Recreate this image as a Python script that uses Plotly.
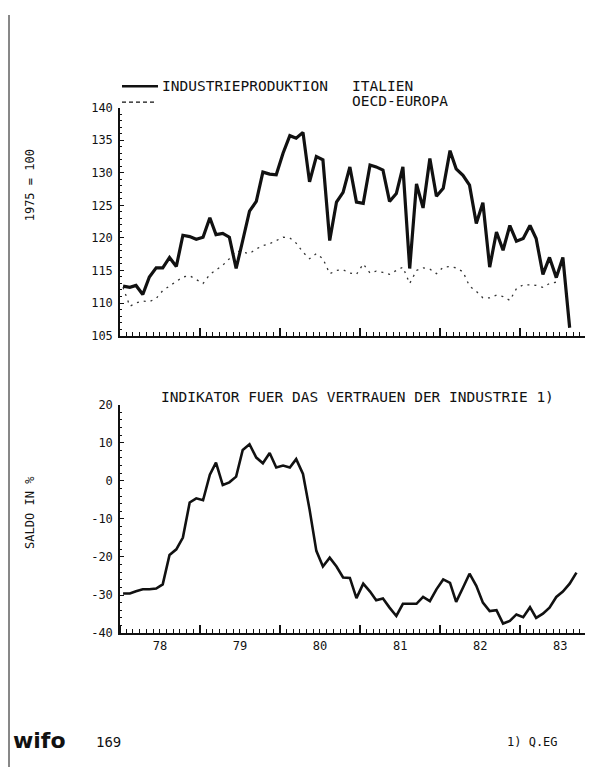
import plotly.graph_objects as go
from datetime import date

START_YEAR = 1978

# Industrieproduktion Italien (1975 = 100), monthly from Jan 1978
italien = [112.6, 112.4, 112.7, 111.3, 114.0, 115.4, 115.4, 117.0, 115.6, 120.4,
           120.2, 119.8, 120.1, 123.1, 120.5, 120.7, 120.1, 115.3, 119.6, 124.1,
           125.6, 130.1, 129.8, 129.7, 133.0, 135.7, 135.3, 136.2, 128.6, 132.5,
           132.0, 119.6, 125.5, 127.0, 130.9, 125.5, 125.3, 131.2, 130.9, 130.4,
           125.6, 126.8, 130.9, 115.3, 128.3, 124.6, 132.2, 126.4, 127.6, 133.4,
           130.6, 129.6, 128.1, 122.2, 125.4, 115.5, 120.9, 118.1, 121.9, 119.5,
           119.9, 121.9, 119.9, 114.4, 117.0, 113.9, 117.0, 106.2]

# Industrieproduktion OECD-Europa (1975 = 100)
oecd_europa = [112.4, 109.5, 110.0, 110.3, 110.2, 110.7, 111.9, 112.6, 113.4, 114.0,
               114.2, 113.6, 113.0, 114.4, 115.0, 115.8, 116.8, 118.0, 117.8, 117.6,
               118.3, 118.8, 119.1, 119.6, 120.1, 120.0, 119.2, 117.8, 116.8, 117.6,
               116.8, 114.5, 115.0, 115.1, 114.6, 114.4, 116.0, 114.6, 114.9, 114.7,
               114.4, 115.0, 115.5, 113.0, 115.0, 115.4, 115.2, 114.5, 115.5, 115.6,
               115.4, 114.8, 112.6, 111.8, 110.8, 110.8, 111.2, 111.0, 110.4, 112.2,
               112.8, 112.8, 112.7, 112.4, 113.0, 113.2]

# Indikator fuer das Vertrauen der Industrie (Saldo in %)
vertrauen = [-29.6, -29.6, -29.0, -28.5, -28.5, -28.3, -27.2, -19.5, -18.0, -14.9,
             -5.7, -4.6, -5.1, 1.6, 4.8, -1.1, -0.4, 1.1, 8.1, 9.6,
             6.1, 4.6, 7.3, 3.5, 4.0, 3.5, 5.7, 1.8, -7.5, -18.4,
             -22.5, -20.2, -22.5, -25.4, -25.5, -30.8, -27.0, -29.1, -31.4, -30.9,
             -33.3, -35.5, -32.3, -32.3, -32.3, -30.5, -31.6, -28.5, -25.9, -26.8,
             -31.8, -28.1, -24.4, -27.6, -32.0, -34.2, -34.0, -37.5, -36.8, -35.1,
             -35.8, -33.2, -36.0, -34.9, -33.3, -30.5, -29.1, -27.0, -24.1]

top_ticks = [105, 110, 115, 120, 125, 130, 135, 140]
bottom_ticks = [-40, -30, -20, -10, 0, 10, 20]

legend_labels = ["INDUSTRIEPRODUKTION", "ITALIEN", "OECD-EUROPA"]
bottom_title = "INDIKATOR FUER DAS VERTRAUEN DER INDUSTRIE 1)"
top_ytitle = "1975 = 100"
bottom_ytitle = "SALDO IN %"
footnote = "1) Q.EG"
page_number = "169"


def months(n):
    return [date(START_YEAR + m // 12, m % 12 + 1, 15).isoformat() for m in range(n)]


W, H = 593, 767
# the page is shown slightly offset / squeezed; map target pixels to paper coords
OX, OY, SY = 8.0, 15.0, 0.98
def px(x):
    return (x - OX) / W
def py(y):
    return 1 - ((y - OY) / SY) / H

MONO = "DejaVu Sans Mono"
INK = "#111111"

fig = go.Figure()
fig.add_trace(go.Scatter(x=months(len(oecd_europa)), y=oecd_europa, mode="lines",
                         line=dict(color="#333333", width=1.3, dash="2px,5px"),
                         xaxis="x", yaxis="y", showlegend=False))
fig.add_trace(go.Scatter(x=months(len(italien)), y=italien, mode="lines",
                         line=dict(color=INK, width=3.2),
                         xaxis="x", yaxis="y", showlegend=False))
fig.add_trace(go.Scatter(x=months(len(vertrauen)), y=vertrauen, mode="lines",
                         line=dict(color=INK, width=2.6),
                         xaxis="x2", yaxis="y2", showlegend=False))

x_range = ["1978-01-01", "1984-01-05"]
xcommon = dict(type="date", range=x_range, tick0="1978-01-01", dtick="M12",
               ticks="inside", ticklen=8, tickwidth=1.5, tickcolor=INK,
               showline=True, linecolor=INK, linewidth=1.5, showgrid=False,
               zeroline=False, domain=[px(120), 1.0],
               minor=dict(dtick="M1", ticks="inside", ticklen=4, tickwidth=1,
                          tickcolor=INK, showgrid=False))

fig.update_layout(
    width=W, height=H, margin=dict(l=0, r=0, t=0, b=0),
    paper_bgcolor="white", plot_bgcolor="white",
    font=dict(family=MONO, color=INK, size=12),
    xaxis=dict(**xcommon, anchor="y", showticklabels=False),
    xaxis2=dict(**xcommon, anchor="y2", showticklabels=True, tickformat="%y",
                ticklabelmode="period", tickfont=dict(family=MONO, size=12),
                ticklabelstandoff=1),
    yaxis=dict(range=[105, 140], domain=[py(335), py(107.5)], anchor="x",
               tickvals=top_ticks, ticktext=[str(v) for v in top_ticks],
               ticks="inside", ticklen=4, tickcolor=INK, showline=True,
               linecolor=INK, linewidth=1.5, showgrid=False, zeroline=False,
               ticklabelstandoff=3, tickfont=dict(family=MONO, size=12),
               minor=dict(dtick=1, ticks="inside", ticklen=2, tickcolor=INK)),
    yaxis2=dict(range=[-40, 20], domain=[py(632), py(404)], anchor="x2",
                tickvals=bottom_ticks, ticktext=[str(v) for v in bottom_ticks],
                ticks="inside", ticklen=4, tickcolor=INK, showline=True,
                linecolor=INK, linewidth=1.5, showgrid=False, zeroline=False,
                ticklabelstandoff=3, tickfont=dict(family=MONO, size=12),
                minor=dict(dtick=2, ticks="inside", ticklen=2, tickcolor=INK)),
)

# legend drawn as in the original plot
fig.add_shape(type="line", xref="paper", yref="paper", x0=px(122), x1=px(158),
              y0=py(86), y1=py(86), line=dict(color=INK, width=2.5))
fig.add_shape(type="line", xref="paper", yref="paper", x0=px(122), x1=px(154),
              y0=py(102), y1=py(102), line=dict(color=INK, width=1.2, dash="4px,3px"))

def note(text, x, y, size=14.5, anchor="left", angle=0, family=MONO):
    fig.add_annotation(text=text, xref="paper", yref="paper", x=px(x - 2), y=py(y),
                       xanchor=anchor, yanchor="middle", showarrow=False,
                       textangle=angle, font=dict(family=family, size=size, color=INK))

note(legend_labels[0], 162, 86)
note(legend_labels[1], 352, 86)
note(legend_labels[2], 352, 101)
note(bottom_title, 161, 396)
note(top_ytitle, 32, 185, size=12, anchor="center", angle=-90)
note(bottom_ytitle, 32, 512, size=12, anchor="center", angle=-90)
note(page_number, 96, 741, size=14)
note(footnote, 507, 741, size=12)
note("<b>wifo</b>", 13, 739, size=22, family="DejaVu Sans")

# left page border
fig.add_shape(type="line", xref="paper", yref="paper", x0=px(9), x1=px(9),
              y0=0, y1=1, line=dict(color=INK, width=1))

fig.write_html("out.html")
